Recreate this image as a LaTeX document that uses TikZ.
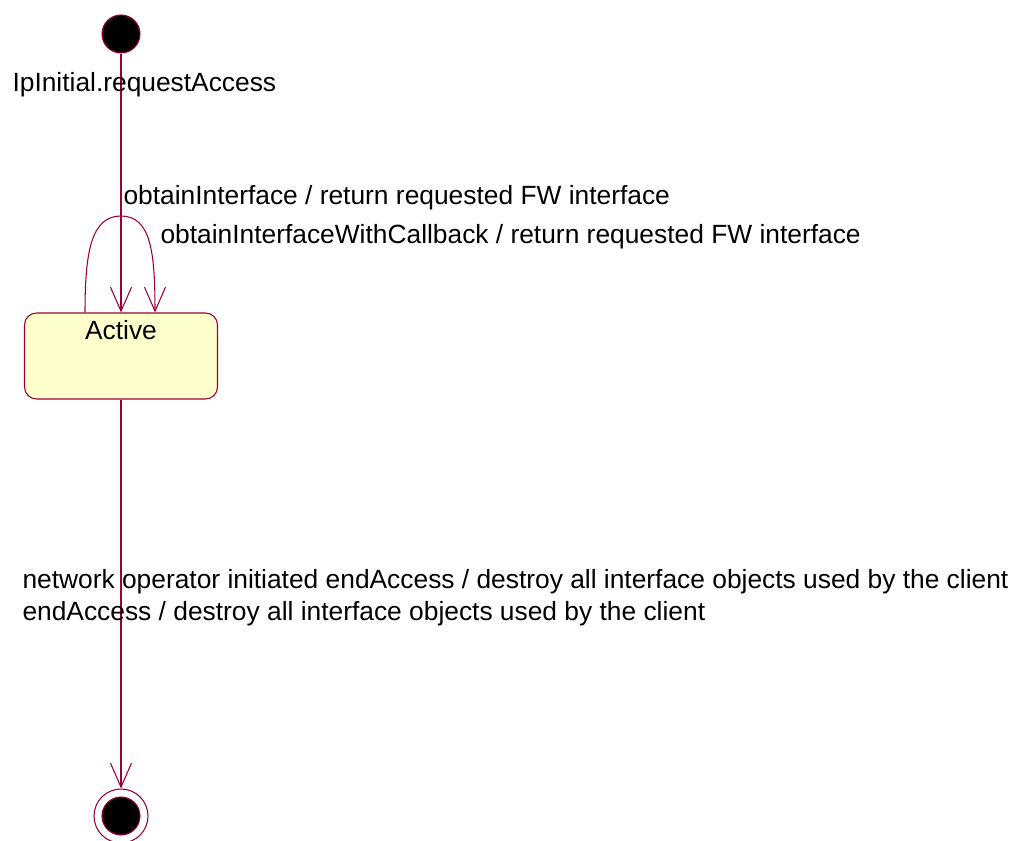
\documentclass[tikz,border=0pt]{standalone}
\usepackage{fontspec}
\setmainfont{Liberation Sans}
\usetikzlibrary{arrows.meta}
\definecolor{umlred}{RGB}{153,0,51}
\definecolor{umlyellow}{RGB}{255,255,204}
\tikzset{>={Straight Barb[length=0.48cm,width=0.42cm]}}

\begin{document}
\begin{tikzpicture}[x=0.02cm, y=-0.02cm, line width=0.6pt,
    every node/.style={font=\fontsize{15}{17}\selectfont},
    pseudo/.style={circle, fill=black, draw=umlred, minimum size=0.76cm, inner sep=0pt},
    state/.style={rectangle, rounded corners=0.24cm, draw=umlred, fill=umlyellow,
      minimum width=3.86cm, minimum height=1.72cm, inner sep=0pt},
    trans/.style={draw=umlred, ->},
    event/.style={anchor=base west, inner sep=0pt}]
    \useasboundingbox (0,0) rectangle (1011,841);
    \node[pseudo] (initial) at (121,34) {};
    \node[state] (active) at (121,356) {};
    \node[anchor=base] (activename) at (121,339) {Active};
    \node[circle, draw=umlred, minimum size=1.08cm, inner sep=0pt] (final) at (121,816) {};
    \node[pseudo] (finaldot) at (final) {};
    \coordinate (looptop) at (121,216);
    \draw[trans] (initial) -- (active.north);
    \draw[trans] ([xshift=-0.72cm]active.north) .. controls +(0,-60) and +(-30,0) .. (looptop)
    .. controls +(30,0) and +(0,-60) .. ([xshift=0.68cm]active.north);
    \draw[trans] (active.south) -- (final.north);
    \node[event] (initlabel) at (12,92) {IpInitial.requestAccess};
    \node[event] (obtainlabel) at (123,205) {obtainInterface / return requested FW interface};
    \node[event] (callbacklabel) at (160,244) {obtainInterfaceWithCallback / return requested FW interface};
    \node[event] (netlabel) at (22,588) {network operator initiated endAccess / destroy all interface objects used by the client};
    \node[event] (endlabel) at (22,620) {endAccess / destroy all interface objects used by the client};
\end{tikzpicture}
\end{document}
